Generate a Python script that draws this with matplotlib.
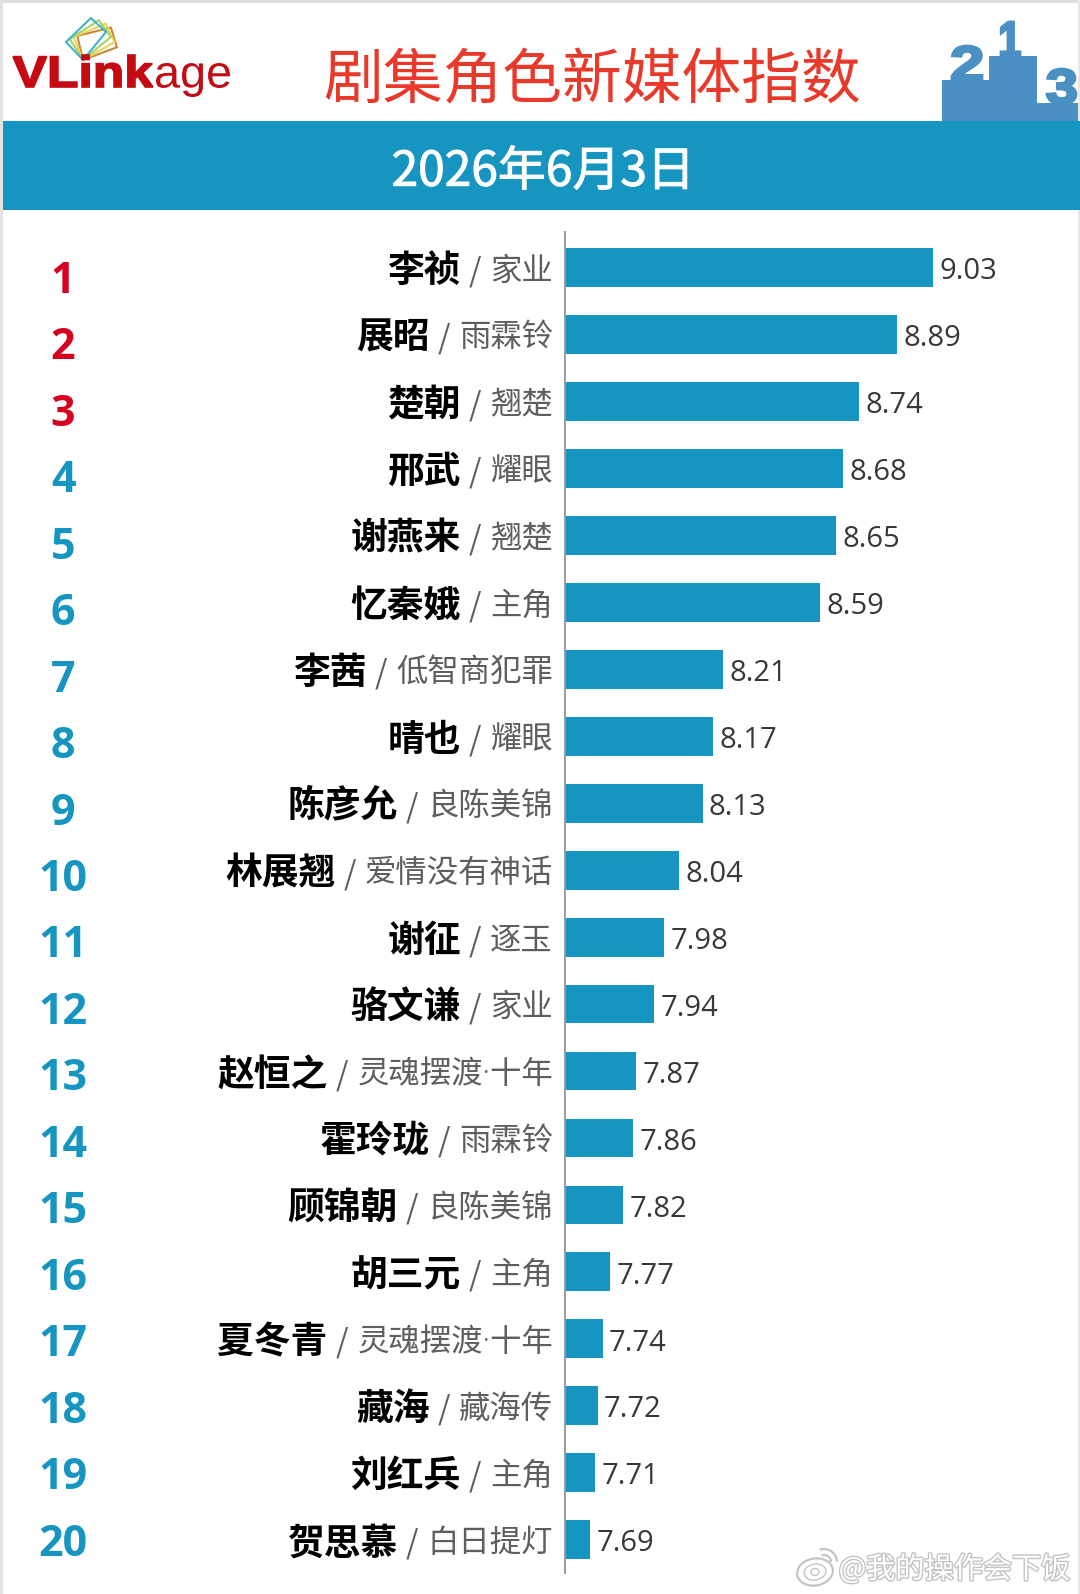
import numpy as np
import matplotlib
matplotlib.use('Agg')
import matplotlib.pyplot as plt
import matplotlib.patheffects as pe
from matplotlib.font_manager import FontProperties
from matplotlib.patches import Polygon, Ellipse, Rectangle, PathPatch, Arc
from matplotlib.text import TextPath
from matplotlib.transforms import Affine2D

plt.rcParams['font.family'] = ['Noto Sans CJK SC', 'DejaVu Sans']

WIDTH, HEIGHT = 1080, 1594
BLUE = '#1595c0'
RED = '#d7001f'
PODIUM = '#4a90c2'
LOGO_RED = '#c40a12'

ranks = list(range(1, 21))
roles = ['李祯', '展昭', '楚朝', '邢武', '谢燕来', '忆秦娥', '李茜', '晴也', '陈彦允', '林展翘',
         '谢征', '骆文谦', '赵恒之', '霍玲珑', '顾锦朝', '胡三元', '夏冬青', '藏海', '刘红兵', '贺思慕']
shows = ['家业', '雨霖铃', '翘楚', '耀眼', '翘楚', '主角', '低智商犯罪', '耀眼', '良陈美锦', '爱情没有神话',
         '逐玉', '家业', '灵魂摆渡·十年', '雨霖铃', '良陈美锦', '主角', '灵魂摆渡·十年', '藏海传', '主角', '白日提灯']
values = [9.03, 8.89, 8.74, 8.68, 8.65, 8.59, 8.21, 8.17, 8.13, 8.04,
          7.98, 7.94, 7.87, 7.86, 7.82, 7.77, 7.74, 7.72, 7.71, 7.69]

fig = plt.figure(figsize=(WIDTH / 100, HEIGHT / 100), dpi=100, facecolor='white')

# page layer in pixel coordinates, for the header and the rank numbers
page = fig.add_axes([0, 0, 1, 1])
page.set_xlim(0, WIDTH)
page.set_ylim(HEIGHT, 0)
page.axis('off')


def fit_text(s, box, color, weight='normal', stroke=0.0):
    # draw a string as an outline stretched into box (x0, y0, x1, y1)
    prop = FontProperties(family='Liberation Sans', weight=weight)
    path = TextPath((0, 0), s, size=40, prop=prop)
    ext = path.get_extents()
    x0, y0, x1, y1 = box
    # y is flipped on this axes, so the height runs downwards from y0
    tr = Affine2D().translate(-ext.x0, -ext.y1).scale((x1 - x0) / ext.width, -(y1 - y0) / ext.height)
    tr = tr.translate(x0, y0)
    page.add_patch(PathPatch(path.transformed(tr), fc=color, ec=color, lw=stroke))


page.add_patch(Rectangle((0, 0), WIDTH, 3, color='#dedede', lw=0))
page.add_patch(Rectangle((0, 0), 3, HEIGHT, color='#e2e2e2', lw=0))
page.add_patch(Rectangle((WIDTH - 2, 0), 2, HEIGHT, color='#e8e8e8', lw=0))

# logo: fanned cards above the wordmark
pivot = np.array([83.0, 60.0])
card = np.array([[0, 0], [-17, -18], [8, -42], [23, -28]], dtype=float)
for angle, col in [(30, '#c9873a'), (21, '#ecd452'), (11, '#a9d264'), (0, '#3fb5c6')]:
    t = np.radians(angle)
    rot = np.array([[np.cos(t), -np.sin(t)], [np.sin(t), np.cos(t)]])
    page.add_patch(Polygon(card @ rot.T + pivot, closed=True, fill=False, ec=col, lw=1.5))
fit_text('VLink', (13, 55, 153, 87), LOGO_RED, weight='bold', stroke=1.2)
fit_text('age', (156, 63, 230, 97), LOGO_RED)

page.text(592, 82, '剧集角色新媒体指数', color='#e8392a', fontsize=43, ha='center', va='center')

# podium in the top right corner
podium = [(942, 121), (942, 80), (989, 80), (989, 56), (1037, 56), (1037, 103), (1078, 103), (1078, 121)]
page.add_patch(Polygon(podium, closed=True, color=PODIUM, lw=0))
fit_text('1', (1001, 22, 1020, 57), PODIUM, weight='bold', stroke=2.0)
fit_text('2', (952, 46, 982, 81), PODIUM, weight='bold', stroke=2.0)
fit_text('3', (1047, 69, 1076, 104), PODIUM, weight='bold', stroke=2.0)

page.add_patch(Rectangle((3, 121), WIDTH - 3, 89, color=BLUE, lw=0))
page.text(543, 172, '2026年6月3日', color='white', fontsize=34.5, ha='center', va='center',
          path_effects=[pe.withStroke(linewidth=0.7, foreground='white')])

# rank numbers
rank_y = np.linspace(281.5, 1544, len(ranks))
for r, y in zip(ranks, rank_y):
    page.text(63, y, str(r), color=RED if r <= 3 else BLUE, fontsize=31, fontweight='bold',
              family=['Open Sans'], ha='center', va='center')

# bar chart
row_top = 267.5
row_step = 66.96
x0_px, y0_px, y1_px = 564.8, 232, 1573
ax = fig.add_axes([x0_px / WIDTH, 1 - y1_px / HEIGHT, (WIDTH - x0_px) / WIDTH, (y1_px - y0_px) / HEIGHT])
ax.patch.set_alpha(0)
px_per_unit = 256
x_min = 7.592
ax.set_xlim(x_min, x_min + (WIDTH - x0_px) / px_per_unit)
ax.set_ylim((y1_px - row_top) / row_step, (y0_px - row_top) / row_step)
for s in ['top', 'right', 'bottom']:
    ax.spines[s].set_visible(False)
ax.spines['left'].set_color('#9a9a9a')
ax.spines['left'].set_linewidth(1.4)
ax.set_xticks([])
ax.set_yticks([])

pos = np.arange(len(values))
ax.barh(pos, values, left=0, height=0.58, color=BLUE, lw=0)

for i, v in enumerate(values):
    ax.annotate(f'{v:.2f}', (v, i), xytext=(4.6, -3), textcoords='offset points', color='#383838',
                fontsize=21, family=['Open Sans'], va='center', ha='left')

# role / show labels, built leftwards from the axis
fig.canvas.draw()
renderer = fig.canvas.get_renderer()
for i, (role, show) in enumerate(zip(roles, shows)):
    y = row_top + row_step * i + 4
    t1 = page.text(553, y, show, color='#5e5e5e', fontsize=22.6, fontweight='light',
                   family=['Open Sans', 'Noto Sans CJK SC'], ha='right', va='center')
    w1 = t1.get_window_extent(renderer).width
    t2 = page.text(553 - w1 - 9, y, '/', color='#5e5e5e', fontsize=23, fontweight='light', ha='right', va='center')
    w2 = t2.get_window_extent(renderer).width
    page.text(553 - w1 - w2 - 17, y, role, color='black', fontsize=26.5, fontweight='bold', ha='right', va='center')

# watermark
page.text(1070, 1570, '@我的操作会下饭', color='white', fontsize=21, ha='right', va='center',
          path_effects=[pe.withStroke(linewidth=2, foreground='#c4c4c4')])
for w, h, lw in [(36, 27, 1.6), (22, 16, 1.0), (8, 7, 1.0)]:
    page.add_patch(Ellipse((815, 1572), w, h, angle=-10, fc='white', ec='#c4c4c4', lw=lw))
for d in [14, 26]:
    page.add_patch(Arc((824, 1562), d, d, theta1=250, theta2=360, ec='#c4c4c4', lw=1.6))

fig.savefig('out.png', dpi=100)
